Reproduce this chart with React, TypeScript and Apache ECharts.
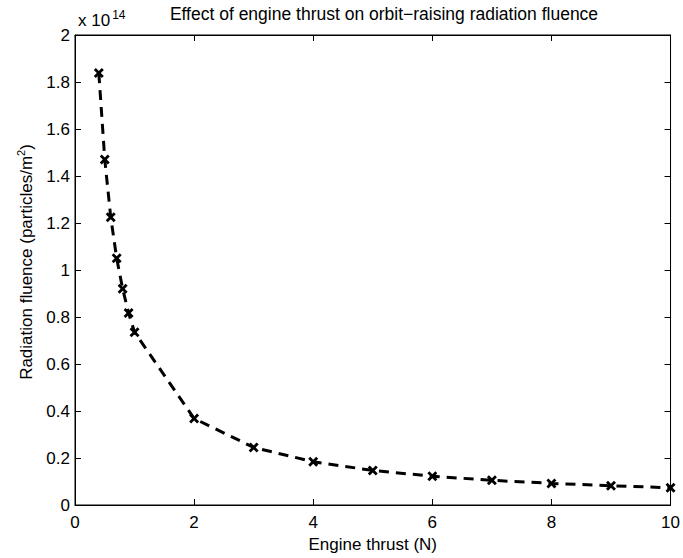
import React, { useEffect, useRef } from "react";
import * as echarts from "echarts";

const thrust = [0.4, 0.5, 0.6, 0.7, 0.8, 0.9, 1, 2, 3, 4, 5, 6, 7, 8, 9, 10];
const fluence = [1.838, 1.47, 1.225, 1.05, 0.92, 0.817, 0.735, 0.368, 0.245, 0.184, 0.147, 0.1225, 0.105, 0.092, 0.082, 0.0735];
const titleText = "Effect of engine thrust on orbit\u2212raising radiation fluence";
const xName = "Engine thrust (N)";
const yNameMain = "Radiation fluence (particles/m";
const yNameSup = "2";

const FONT = "Liberation Sans, Arial, Helvetica, sans-serif";
const FS = 17;

export default function App() {
  const ref = useRef<HTMLDivElement>(null);
  useEffect(() => {
    if (!ref.current) return;
    const chart = echarts.init(ref.current, null, { renderer: "svg" });
    const axisCommon = {
      axisLine: { show: true, onZero: false, lineStyle: { color: "#000", width: 1 } },
      axisTick: { show: true, inside: true, length: 6, lineStyle: { color: "#000" } },
      splitLine: { show: false },
    };
    const data = thrust.map((t, i) => [t, fluence[i]]);
    chart.setOption({
      animation: false,
      backgroundColor: "#fff",
      textStyle: { fontFamily: FONT },
      grid: {
        left: 75,
        right: 11,
        top: 35,
        bottom: 53,
        containLabel: false,
        show: true,
        borderColor: "#000",
        borderWidth: 1,
        backgroundColor: "transparent",
      },
      xAxis: [
        {
          type: "value",
          min: 0,
          max: 10,
          interval: 2,
          position: "bottom",
          name: xName,
          nameLocation: "middle",
          nameGap: 29,
          nameTextStyle: { color: "#000", fontSize: FS, fontFamily: FONT },
          axisLabel: { color: "#000", fontSize: FS, margin: 9, fontFamily: FONT },
          ...axisCommon,
        },
        {
          type: "value",
          min: 0,
          max: 10,
          interval: 2,
          position: "top",
          axisLabel: { show: false },
          ...axisCommon,
        },
      ],
      yAxis: [
        {
          type: "value",
          min: 0,
          max: 2,
          interval: 0.2,
          position: "left",
          axisLabel: { color: "#000", fontSize: FS, margin: 5, fontFamily: FONT },
          ...axisCommon,
        },
        {
          type: "value",
          min: 0,
          max: 2,
          interval: 0.2,
          position: "right",
          axisLabel: { show: false },
          ...axisCommon,
        },
      ],
      graphic: [
        {
          type: "text",
          x: 384,
          y: 14,
          style: {
            text: titleText,
            fill: "#000",
            font: "17.5px " + FONT,
            textAlign: "center",
            textVerticalAlign: "middle",
          },
        },
        {
          type: "text",
          x: 78,
          y: 29,
          style: {
            text: "{n|x 10}{s|14}",
            textVerticalAlign: "bottom",
            rich: {
              n: { fontSize: FS, fill: "#000", fontFamily: FONT, verticalAlign: "bottom" },
              s: { fontSize: 12, fill: "#000", fontFamily: FONT, verticalAlign: "top", padding: [0, 0, 8, 2] },
            },
          },
        },
        {
          type: "text",
          x: 25,
          y: 262,
          rotation: Math.PI / 2,
          style: {
            text: "{n|" + yNameMain + "}{s|" + yNameSup + "}{n|)}",
            textAlign: "center",
            textVerticalAlign: "middle",
            rich: {
              n: { fontSize: FS, fill: "#000", fontFamily: FONT, verticalAlign: "bottom" },
              s: { fontSize: 11, fill: "#000", fontFamily: FONT, verticalAlign: "top", padding: [0, 0, 8, 0] },
            },
          },
        },
      ],
      series: [
        {
          type: "line",
          data,
          xAxisIndex: 0,
          yAxisIndex: 0,
          symbol: "path://M0,2 L2,0 L5,3 L8,0 L10,2 L7,5 L10,8 L8,10 L5,7 L2,10 L0,8 L3,5 Z",
          symbolSize: 10,
          showSymbol: true,
          itemStyle: { color: "#000" },
          lineStyle: { color: "#000", width: 3, type: [10, 7] },
          silent: true,
        },
        {
          type: "line",
          data: [],
          xAxisIndex: 1,
          yAxisIndex: 1,
          silent: true,
        },
      ],
    });
    return () => chart.dispose();
  }, []);
  return (
    <div
      ref={ref}
      style={{ width: 683, height: 558, position: "absolute", left: 0, top: 0 }}
    />
  );
}
